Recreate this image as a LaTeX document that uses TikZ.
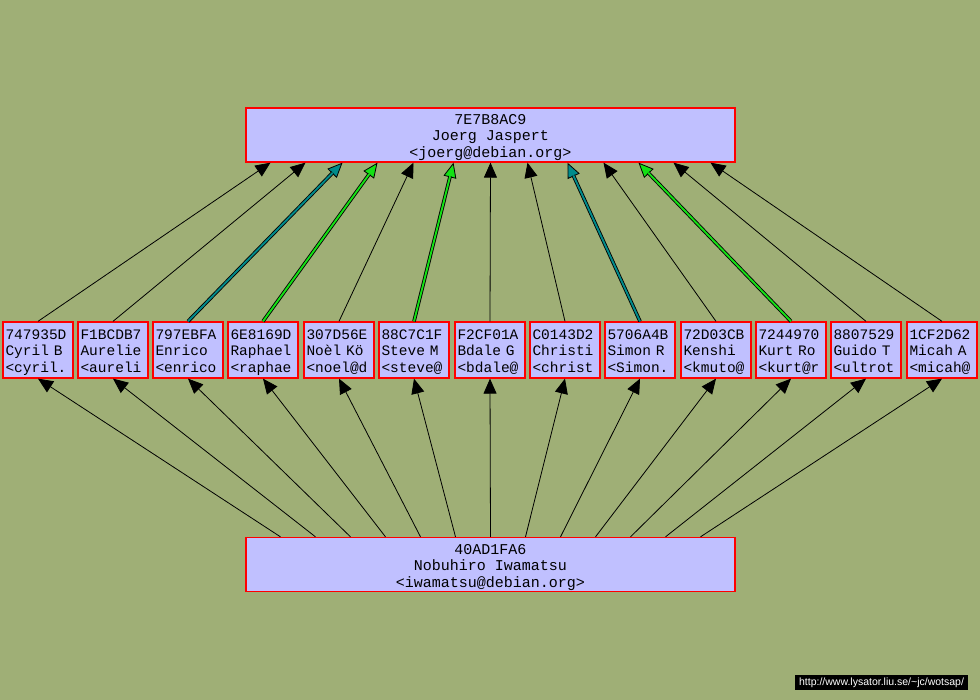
\documentclass[tikz,border=0pt]{standalone}
\usepackage{fontspec}
\newfontfamily\monofam{Liberation Mono}
\newfontfamily\urlfam{Liberation Sans}
\usetikzlibrary{arrows.meta}
\definecolor{bgc}{RGB}{159,175,118}
\definecolor{boxc}{RGB}{192,192,255}
\definecolor{tealc}{RGB}{0,139,139}
\definecolor{greenc}{RGB}{20,225,20}
\newcommand\tstrut{\rule{0pt}{16.5pt}}
\newcommand\bstrut{\rule[-4.5pt]{0pt}{4.5pt}}
\newcommand\coledge[3]{%
  \draw[-{Triangle[length=15pt,width=13pt,fill=#1]}, line width=0.8pt] (#2) -- (#3);
  \draw[line width=3.6pt, shorten >=14pt] (#2) -- (#3);
  \draw[#1, line width=1.9pt, shorten >=14pt] (#2) -- (#3);
}
\tikzset{
  bigbox/.style={draw=red, fill=boxc, line width=1.3pt, minimum width=489pt, minimum height=54pt,
    inner sep=0pt, align=center, font={\monofam\fontsize{15}{16.5}\selectfont}},
  keybox/.style={draw=red, fill=boxc, line width=1.3pt, text width=65pt, inner xsep=2.5pt, inner ysep=0pt,
    minimum height=56pt, align=left, font={\monofam\fontsize{14.5}{16.5}\selectfont}},
  uparrow/.style={-{Triangle[length=15pt,width=13pt]}, line width=0.8pt},
  dnarrow/.style={-{Triangle[length=15pt,width=13pt]}, line width=0.8pt},
}
\begin{document}
\begin{tikzpicture}[x=1pt,y=-1pt]
\fill[bgc] (0,0) rectangle (980,700);
\useasboundingbox (0,0) rectangle (980,700);

\node[bigbox] (top) at (490.5,135) {\tstrut 7E7B8AC9\\Joerg Jaspert\\<joerg@debian.org>\bstrut};
\node[bigbox] (bot) at (490.5,564.5) {\tstrut 40AD1FA6\\Nobuhiro Iwamatsu\\<iwamatsu@debian.org>\bstrut};

\node[keybox] (m1) at (38,350) {\tstrut 747935D\\Cyril B\\<cyril.\bstrut};
\node[keybox] (m2) at (113,350) {\tstrut F1BCDB7\\Aurelie\\<aureli\bstrut};
\node[keybox] (m3) at (188,350) {\tstrut 797EBFA\\Enrico\\<enrico\bstrut};
\node[keybox] (m4) at (263,350) {\tstrut 6E8169D\\Raphael\\<raphae\bstrut};
\node[keybox] (m5) at (339,350) {\tstrut 307D56E\\Noèl Kö\\<noel@d\bstrut};
\node[keybox] (m6) at (414,350) {\tstrut 88C7C1F\\Steve M\\<steve@\bstrut};
\node[keybox] (m7) at (490,350) {\tstrut F2CF01A\\Bdale G\\<bdale@\bstrut};
\node[keybox] (m8) at (565,350) {\tstrut C0143D2\\Christi\\<christ\bstrut};
\node[keybox] (m9) at (640,350) {\tstrut 5706A4B\\Simon R\\<Simon.\bstrut};
\node[keybox] (m10) at (716,350) {\tstrut 72D03CB\\Kenshi\\<kmuto@\bstrut};
\node[keybox] (m11) at (791,350) {\tstrut 7244970\\Kurt Ro\\<kurt@r\bstrut};
\node[keybox] (m12) at (866,350) {\tstrut 8807529\\Guido T\\<ultrot\bstrut};
\node[keybox] (m13) at (942,350) {\tstrut 1CF2D62\\Micah A\\<micah@\bstrut};

% edges up to top
\draw[uparrow] (m1.north) -- ([xshift=-220pt]top.south);
\draw[uparrow] (m2.north) -- ([xshift=-185pt]top.south);
\coledge{tealc}{m3.north}{[xshift=-148pt]top.south}
\coledge{greenc}{m4.north}{[xshift=-113pt]top.south}
\draw[uparrow] (m5.north) -- ([xshift=-77pt]top.south);
\coledge{greenc}{m6.north}{[xshift=-37pt]top.south}
\draw[uparrow] (m7.north) -- (top.south);
\draw[uparrow] (m8.north) -- ([xshift=37pt]top.south);
\coledge{tealc}{m9.north}{[xshift=77pt]top.south}
\draw[uparrow] (m10.north) -- ([xshift=113pt]top.south);
\coledge{greenc}{m11.north}{[xshift=148pt]top.south}
\draw[uparrow] (m12.north) -- ([xshift=183pt]top.south);
\draw[uparrow] (m13.north) -- ([xshift=220pt]top.south);

% edges from bottom
\draw[dnarrow] ([xshift=-210pt]bot.north) -- (m1.south);
\draw[dnarrow] ([xshift=-175pt]bot.north) -- (m2.south);
\draw[dnarrow] ([xshift=-140pt]bot.north) -- (m3.south);
\draw[dnarrow] ([xshift=-105pt]bot.north) -- (m4.south);
\draw[dnarrow] ([xshift=-70pt]bot.north) -- (m5.south);
\draw[dnarrow] ([xshift=-35pt]bot.north) -- (m6.south);
\draw[dnarrow] (bot.north) -- (m7.south);
\draw[dnarrow] ([xshift=35pt]bot.north) -- (m8.south);
\draw[dnarrow] ([xshift=70pt]bot.north) -- (m9.south);
\draw[dnarrow] ([xshift=105pt]bot.north) -- (m10.south);
\draw[dnarrow] ([xshift=140pt]bot.north) -- (m11.south);
\draw[dnarrow] ([xshift=175pt]bot.north) -- (m12.south);
\draw[dnarrow] ([xshift=210pt]bot.north) -- (m13.south);

\node[fill=black, text=white, inner xsep=2pt, inner ysep=1.5pt, minimum width=173pt, minimum height=15pt,
  font={\urlfam\fontsize{10.5}{12}\selectfont}] (url) at (881.5,682.5) {http://www.lysator.liu.se/\textasciitilde jc/wotsap/};
\end{tikzpicture}
\end{document}
